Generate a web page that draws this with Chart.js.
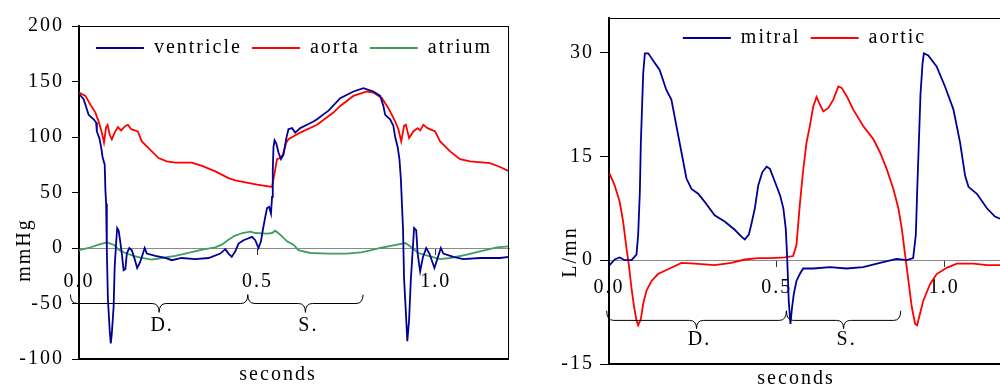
<!DOCTYPE html>
<html><head><meta charset="utf-8">
<script src="https://cdn.jsdelivr.net/npm/chart.js@4"></script>
<style>
html,body{margin:0;padding:0;background:#fff;overflow:hidden;width:1000px;height:387px}
#l{position:absolute;left:0;top:0}
#r{position:absolute;left:520px;top:0}
</style></head><body>
<canvas id="l" width="520" height="387"></canvas>
<canvas id="r" width="480" height="387"></canvas>
<script>
// ---------- LEFT CHART DATA (pressure, mmHg) ----------
const ventricleT = [0,0.013,0.022,0.027,0.041,0.048,0.050,0.057,0.062,0.066,0.072,0.074,0.076,0.078,0.081,0.086,0.089,0.092,0.097,0.100,0.104,0.107,0.111,0.115,0.120,0.125,0.130,0.134,0.141,0.148,0.156,0.163,0.171,0.178,0.184,0.190,0.214,0.242,0.260,0.288,0.326,0.363,0.396,0.410,0.419,0.428,0.438,0.447,0.461,0.485,0.494,0.503,0.510,0.515,0.522,0.527,0.533,0.538,0.541,0.543,0.545,0.548,0.553,0.559,0.566,0.573,0.581,0.587,0.597,0.606,0.620,0.639,0.657,0.667,0.700,0.732,0.769,0.797,0.825,0.844,0.853,0.858,0.872,0.881,0.886,0.893,0.898,0.902,0.908,0.911,0.916,0.920,0.925,0.930,0.936,0.939,0.945,0.949,0.956,0.964,0.973,0.982,0.996,1.004,1.014,1.021,1.049,1.077,1.124,1.180,1.206];
const ventricleP = [139,134,125,120,116,113,105,99,91,82,75,52,40,-2,-46,-74,-86,-77,-53,-17,4,18,16,7,-5,-20,-19,-5,0,-2,-10,-18,-13,-6,0,-5,-7,-9,-11,-9,-10,-9,-5,-1,-5,-8,-3,4,7,10,7,0,6,16,28,36,37,31,46,70,91,97,94,86,80,84,99,107,108,104,108,111,114,116,124,135,141,144,141,137,128,120,116,110,100,91,80,62,17,-28,-58,-84,-65,-28,2,18,16,-5,-21,-8,0,-5,-18,-10,0,-5,-8,-10,-9,-9,-8];

const aortaT = [0,0.018,0.032,0.046,0.055,0.064,0.070,0.076,0.080,0.086,0.092,0.100,0.109,0.118,0.130,0.137,0.146,0.165,0.176,0.195,0.223,0.246,0.270,0.316,0.345,0.382,0.419,0.438,0.470,0.499,0.541,0.545,0.550,0.555,0.564,0.571,0.581,0.587,0.620,0.667,0.713,0.732,0.769,0.807,0.825,0.849,0.867,0.886,0.895,0.903,0.911,0.916,0.925,0.937,0.949,0.956,0.965,0.977,0.998,1.012,1.040,1.068,1.096,1.152,1.180,1.206];
const aortaP = [140,137,129,122,114,104,95,109,111,102,98,104,109,106,110,111,107,105,96,90,81,78,77,77,74,69,63,61,59,57,55,62,71,80,81,84,95,98,104,111,122,128,137,141,140,135,126,114,107,96,110,111,99,105,108,106,111,108,105,96,87,80,78,76.5,73,69];

const atriumT = [0,0.027,0.055,0.078,0.097,0.111,0.130,0.153,0.176,0.204,0.232,0.270,0.307,0.345,0.382,0.400,0.419,0.436,0.458,0.480,0.494,0.527,0.541,0.550,0.564,0.583,0.601,0.615,0.648,0.700,0.750,0.790,0.820,0.844,0.881,0.914,0.928,0.951,0.984,1.012,1.040,1.087,1.124,1.171,1.206];
const atriumP = [-2,0,3,5,3,-1.5,-4.5,-7,-9,-10.5,-9,-7,-4.5,-1.5,0.5,3,7.5,11,13.5,14.7,13.5,13,13.5,15.6,12,6,3,-2,-4.5,-5,-5,-4,-2,0,2.4,4.5,1.5,-4.5,-7.5,-10,-9,-6,-3,0.5,1.5];

// ---------- RIGHT CHART DATA (flow, L/mn) ----------
const mitralT = [0.002,0.017,0.032,0.047,0.067,0.082,0.087,0.092,0.095,0.099,0.102,0.107,0.117,0.131,0.151,0.171,0.186,0.201,0.216,0.231,0.246,0.266,0.286,0.315,0.345,0.375,0.395,0.405,0.417,0.425,0.435,0.445,0.457,0.470,0.480,0.495,0.510,0.520,0.527,0.531,0.536,0.541,0.546,0.551,0.559,0.569,0.579,0.609,0.659,0.708,0.758,0.808,0.858,0.888,0.907,0.915,0.919,0.924,0.929,0.935,0.939,0.952,0.977,1.002,1.027,1.047,1.062,1.072,1.097,1.127,1.151,1.166];
const mitralQ = [-0.7,0.1,0.4,0,0,0.8,3.7,9.9,17,22.7,27,29.9,29.9,28.9,27.5,24.6,23.2,19.4,15.6,11.8,10.3,9.6,8.4,6.5,5.6,4.4,3.4,3.0,3.7,5.3,7.5,10.8,12.7,13.5,13.2,11.3,9.4,7.5,4.6,0.8,-5.9,-9.2,-6.8,-4.9,-3,-2,-1.2,-1.2,-1,-1.2,-1,-0.4,0.2,0,0.3,3.7,9.9,17,24.1,28.4,29.9,29.6,28,25.1,21.8,17,12.2,10.6,9.6,7.5,6.3,6.0];

const aorticT = [0.002,0.017,0.032,0.042,0.052,0.059,0.067,0.075,0.082,0.087,0.095,0.102,0.112,0.127,0.146,0.176,0.216,0.256,0.315,0.365,0.405,0.445,0.485,0.524,0.549,0.559,0.569,0.579,0.589,0.599,0.609,0.619,0.627,0.639,0.654,0.669,0.684,0.694,0.709,0.728,0.758,0.788,0.808,0.828,0.848,0.863,0.873,0.883,0.893,0.903,0.913,0.919,0.927,0.937,0.957,0.977,1.007,1.037,1.087,1.127,1.166];
const aorticQ = [12.5,10.8,8.4,5.6,1.8,-0.6,-4,-6.8,-8.7,-9.4,-8.5,-6.3,-4.4,-3,-2,-1.3,-0.4,-0.5,-0.7,-0.4,0.1,0.3,0.3,0.4,0.6,2.2,8,13,17,19.4,22.2,23.6,22.7,21.5,22,23.2,25.1,24.9,23.7,21.8,19.4,17.5,15.6,13.2,10.3,7.5,4.6,0.8,-3,-6.8,-9.2,-9.4,-7.8,-5.9,-3.5,-2,-1.1,-0.5,-0.5,-0.7,-0.7];

// ---------- axis / annotation labels ----------
const xTicks = [0, 0.5, 1.0];
const leftYTicks = [-100, -50, 0, 50, 100, 150, 200];
const rightYTicks = [-15, 0, 15, 30];
const phaseNames = ['D.', 'S.'];
const leftPhaseBounds = [-0.024, 0.473, 0.796];
const rightPhaseBounds = [-0.007, 0.529, 0.870];

const FONT = "'Liberation Serif','Times New Roman',serif";
const BLUE = '#000096', RED = '#ff0000', GREEN = '#3f9d5e';

function pts(ts, vs){ return ts.map((t,i)=>({x:t,y:vs[i]})); }

const decor = {
  id:'decor',
  beforeUpdate(chart){ chart.ctx.letterSpacing='2px'; },
  beforeLayout(chart){
    chart.ctx.letterSpacing='2px';
    if (chart.legend) chart.legend.isHorizontal = () => true;
  },
  afterLayout(chart, args, o){
    const lg = chart.legend, a = chart.chartArea;
    if (lg){ lg.left = a.left; lg.right = a.right; lg.top = a.top + o.legendDy; }
  },
  beforeDraw(chart){ chart.ctx.letterSpacing='2px'; },
  afterDraw(chart, args, o){
    const {ctx, chartArea:a, scales:{x,y}} = chart;
    ctx.save();
    ctx.letterSpacing='2px';
    ctx.strokeStyle='#000';
    ctx.lineWidth=1;
    ctx.beginPath();
    ctx.moveTo(a.left, a.top+0.5); ctx.lineTo(a.right, a.top+0.5);
    if (o.rightBorder){ ctx.moveTo(a.right-0.5, a.top); ctx.lineTo(a.right-0.5, a.bottom); }
    ctx.stroke();
    ctx.lineWidth=2;
    ctx.beginPath(); ctx.moveTo(a.left-1, a.bottom); ctx.lineTo(a.right, a.bottom); ctx.stroke();
    // braces
    ctx.lineWidth=1;
    const yt=y.getPixelForValue(o.braceY[0]), ym=y.getPixelForValue(o.braceY[1]), yk=y.getPixelForValue(o.braceY[2]);
    ctx.fillStyle='#000';
    ctx.font='20px '+FONT;
    ctx.textAlign='center'; ctx.textBaseline='middle';
    for (let i=0;i<phaseNames.length;i++){
      const x1=x.getPixelForValue(o.bounds[i]), x2=x.getPixelForValue(o.bounds[i+1]);
      const xm=(x1+x2)/2, r=7;
      ctx.beginPath();
      ctx.moveTo(x1,yt);
      ctx.quadraticCurveTo(x1,ym,x1+r,ym);
      ctx.lineTo(xm-r,ym);
      ctx.quadraticCurveTo(xm,ym,xm,yk);
      ctx.quadraticCurveTo(xm,ym,xm+r,ym);
      ctx.lineTo(x2-r,ym);
      ctx.quadraticCurveTo(x2,ym,x2,yt);
      ctx.stroke();
      ctx.fillText(phaseNames[i], xm+3, y.getPixelForValue(o.labelY));
    }
    // axis titles
    ctx.fillText('seconds', o.xTitle[0], o.xTitle[1]);
    ctx.translate(o.yTitle[0], o.yTitle[1]);
    ctx.rotate(-Math.PI/2);
    ctx.fillText(o.yTitleText, 0, 0);
    ctx.restore();
  }
};

function makeChart(id, cfg){
  return new Chart(document.getElementById(id), {
    type:'line',
    data:{datasets: cfg.datasets.map(d=>({
      label:d.label, data:d.data, borderColor:d.color, backgroundColor:d.color,
      borderWidth:1.8, pointRadius:0, tension:0, fill:false
    }))},
    options:{
      responsive:false, animation:false, devicePixelRatio:1,
      layout:{padding:cfg.padding},
      scales:{
        x:{type:'linear', min:0, max:cfg.xMax, position:{y:0},
          afterFit(s){ s.height=0; },
          afterBuildTicks(s){ s.ticks = xTicks.map(v=>({value:v})); },
          ticks:{callback:v=>Number(v).toFixed(1), font:{family:FONT,size:20}, color:'#000', padding:cfg.xPad, maxRotation:0, autoSkip:false},
          grid:{drawOnChartArea:false, tickLength:6, color:'#333'},
          border:{color:'#8a8a8a', width:1}
        },
        y:{type:'linear', min:cfg.yMin, max:cfg.yMax, position:'left',
          afterFit(s){ s.width=cfg.yWidth; },
          afterBuildTicks(s){ s.ticks = cfg.yTicks.map(v=>({value:v})); },
          ticks:{callback:v=>String(v), font:{family:FONT,size:20}, color:'#000', padding:cfg.yPad},
          grid:{drawOnChartArea:false, tickLength:cfg.yTick, color:'#000'},
          border:{color:'#000', width:2}
        }
      },
      plugins:{
        legend:{position:'chartArea', align:'center',
          labels:{usePointStyle:true, pointStyle:'line', pointStyleWidth:48, boxHeight:20,
            font:{family:FONT,size:20}, color:'#000', padding:10}},
        tooltip:{enabled:false},
        decor:cfg.decor
      }
    },
    plugins:[decor]
  });
}

makeChart('l', {
  datasets:[
    {label:'ventricle', data:pts(ventricleT,ventricleP), color:BLUE},
    {label:'aorta', data:pts(aortaT,aortaP), color:RED},
    {label:'atrium', data:pts(atriumT,atriumP), color:GREEN}
  ],
  padding:{top:26,right:11,bottom:28,left:0},
  xMax:1.205, yMin:-100, yMax:200, yTicks:leftYTicks, yWidth:79, yTick:7, yPad:8, xPad:16,
  decor:{legendDy:2, rightBorder:true, bounds:leftPhaseBounds, braceY:[-42,-50,-58], labelY:-70,
    xTitle:[278,375], yTitle:[25,250], yTitleText:'mmHg'}
});

makeChart('r', {
  datasets:[
    {label:'mitral', data:pts(mitralT,mitralQ), color:BLUE},
    {label:'aortic', data:pts(aorticT,aorticQ), color:RED}
  ],
  padding:{top:15,right:0,bottom:23,left:0},
  xMax:1.166, yMin:-15, yMax:35, yTicks:rightYTicks, yWidth:89, yTick:9, yPad:6, xPad:10,
  decor:{legendDy:0, rightBorder:false, bounds:rightPhaseBounds, braceY:[-7.3,-8.7,-9.9], labelY:-11.5,
    xTitle:[276,379], yTitle:[51,252], yTitleText:'L/mn'}
});
</script>
</body></html>
